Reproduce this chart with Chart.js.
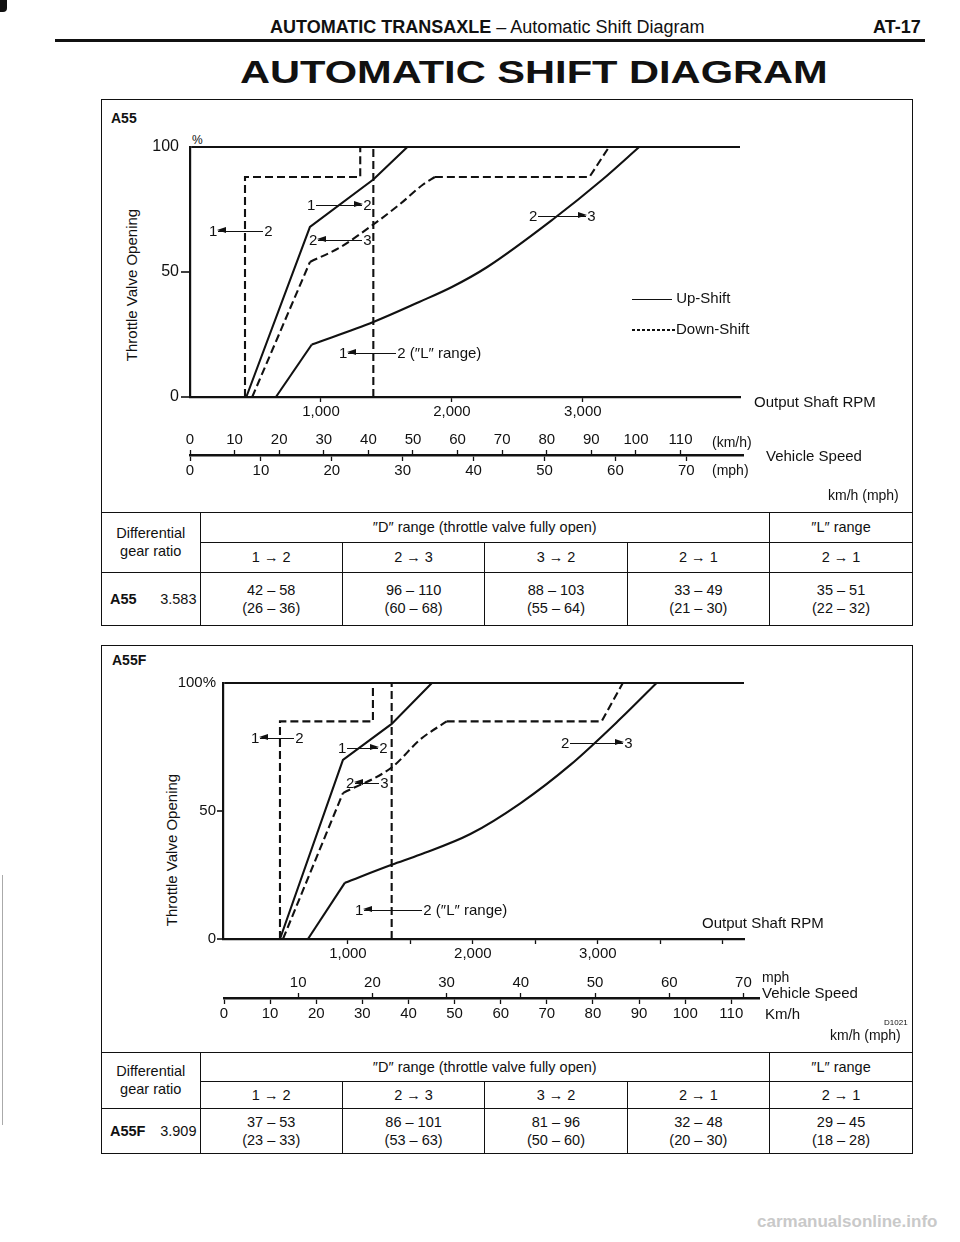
<!DOCTYPE html>
<html><head><meta charset="utf-8">
<script src="https://cdn.jsdelivr.net/npm/chart.js@4.4.1/dist/chart.umd.min.js"></script>
<style>
*{box-sizing:border-box}
html,body{margin:0;padding:0}
body{width:960px;height:1242px;position:relative;background:#fff;color:#111;font-family:"Liberation Sans",Arial,Helvetica,sans-serif;overflow:hidden}
.a{position:absolute;white-space:nowrap;line-height:18px;font-size:15px}
.box{position:absolute;border:1.6px solid #111}
.ln{display:inline-block;position:relative;height:0;border-top:1.4px solid #111;vertical-align:middle;margin:0 1px;top:-1px}
.ln.l::before{content:"";position:absolute;left:-1px;top:-4.6px;border-right:9px solid #111;border-top:3.3px solid transparent;border-bottom:3.3px solid transparent}
.ln.r::after{content:"";position:absolute;right:-1px;top:-4.6px;border-left:9px solid #111;border-top:3.3px solid transparent;border-bottom:3.3px solid transparent}
.t{position:absolute;left:0;bottom:0;width:100%;border-collapse:collapse;table-layout:fixed;font-size:14.5px}
.t td{border:1.4px solid #111;text-align:center;vertical-align:middle;padding:0;line-height:18px}
.t tr td:first-child{border-left:none}
.t tr td:last-child{border-right:none}
.t tr:last-child td{border-bottom:none}
canvas{position:absolute}
.vt{position:absolute;transform:translate(-50%,-50%) rotate(-90deg);white-space:nowrap;font-size:15px;line-height:18px}
</style></head><body>
<script>
// ---------- data ----------
const rpmLabelTicks = [1000, 2000, 3000];
const rpmTickMarksA55 = [1000, 2000, 3000];
const rpmTickMarksA55F = [1000, 1500, 2000, 2500, 3000, 3500, 4000];
const throttleTicks = [0, 50, 100];
const kmhTicks = [0, 10, 20, 30, 40, 50, 60, 70, 80, 90, 100, 110];
const mphTicks = [0, 10, 20, 30, 40, 50, 60, 70];
const mphTicksA55F = [10, 20, 30, 40, 50, 60, 70];

// A55 shift lines: [output shaft rpm, throttle %]
const a55Up12 = [[430, 0], [916, 68], [1400, 87], [1660, 100]];
const a55Up23Low = [[656, 0], [930, 21]];
const a55Up23Curve = [[930, 21], [1400, 30], [1750, 38], [2000, 44], [2270, 52], [2770, 71], [3150, 87], [3430, 100]];
const a55Down32Low = [[475, 0], [916, 54]];
const a55Down32Curve = [[916, 54], [1150, 60], [1400, 69], [1600, 77], [1780, 85], [1870, 88]];
const a55Down32Top = [[1870, 88], [3050, 88], [3200, 100]];
const a55Down21 = [[420, 0], [420, 88], [1300, 88], [1300, 100]];
const a55Down21L = [[1400, 0], [1400, 100]];

// A55F shift lines
const a55fUp12 = [[456, 0], [960, 70], [1350, 84], [1672, 100]];
const a55fUp23Low = [[680, 0], [976, 22]];
const a55fUp23Curve = [[976, 22], [1350, 29], [1580, 33], [1980, 41], [2380, 53], [2780, 68], [3180, 86], [3470, 100]];
const a55fDown32Low = [[480, 0], [960, 57]];
const a55fDown32Curve = [[960, 57], [1350, 67], [1580, 78], [1790, 85]];
const a55fDown32Top = [[1790, 85], [3030, 85], [3200, 100]];
const a55fDown21 = [[456, 0], [456, 85], [1200, 85], [1200, 100]];
const a55fDown21L = [[1350, 0], [1350, 100]];

// tables
const shiftHeads = ['1 → 2', '2 → 3', '3 → 2', '2 → 1', '2 → 1'];
const a55Kmh = ['42 – 58', '96 – 110', '88 – 103', '33 – 49', '35 – 51'];
const a55Mph = ['(26 – 36)', '(60 – 68)', '(55 – 64)', '(21 – 30)', '(22 – 32)'];
const a55fKmh = ['37 – 53', '86 – 101', '81 – 96', '32 – 48', '29 – 45'];
const a55fMph = ['(23 – 33)', '(53 – 63)', '(50 – 60)', '(20 – 30)', '(18 – 28)'];
</script>

<!-- header -->
<div style="position:absolute;left:0;top:0;width:7px;height:12px;background:#111;border-radius:0 0 4px 0"></div>
<div style="position:absolute;left:2px;top:875px;width:1px;height:250px;background:#aaa"></div>
<div class="a" style="left:270px;top:17px;font-size:18px;line-height:20px"><b>AUTOMATIC TRANSAXLE</b> – Automatic Shift Diagram</div>
<div class="a" style="left:873px;top:17px;font-size:18px;line-height:20px"><b>AT-17</b></div>
<div style="position:absolute;left:55px;top:39px;width:870px;height:3px;background:#111"></div>
<div class="a" style="left:240px;top:54px;font-size:32px;line-height:36px;font-weight:bold;transform:scaleX(1.3);transform-origin:0 50%">AUTOMATIC SHIFT DIAGRAM</div>

<!-- panel 1 -->
<div class="box" id="box1" style="left:101px;top:99px;width:812px;height:527px"></div>
<div class="a" style="left:111px;top:109px;font-weight:bold;font-size:14px">A55</div>
<div class="a" style="left:192px;top:131px;font-size:12px">%</div>
<div class="vt" style="left:132px;top:285px">Throttle Valve Opening</div>
<canvas id="c1" width="800" height="310" style="left:100px;top:120px;width:800px;height:310px"></canvas>
<canvas id="s1" width="800" height="56" style="left:100px;top:427px;width:800px;height:56px"></canvas>
<div class="a" style="left:754px;top:393px">Output Shaft RPM</div>
<div class="a" style="left:712px;top:433px;font-size:14px">(km/h)</div>
<div class="a" style="left:712px;top:461px;font-size:14px">(mph)</div>
<div class="a" style="left:766px;top:447px">Vehicle Speed</div>
<div class="a" style="left:828px;top:486px;font-size:14px">km/h (mph)</div>
<div class="a" style="left:632px;top:289px"><span style="display:inline-block;width:40px;border-top:1.4px solid #111;vertical-align:middle"></span> Up-Shift</div>
<div class="a" style="left:632px;top:320px"><span style="display:inline-block;width:44px;height:1.6px;background:repeating-linear-gradient(90deg,#111 0 3px,transparent 3px 5px);vertical-align:middle"></span>Down-Shift</div>

<!-- panel 2 -->
<div class="box" id="box2" style="left:101px;top:645px;width:812px;height:509px"></div>
<div class="a" style="left:112px;top:651px;font-weight:bold;font-size:14px">A55F</div>
<div class="vt" style="left:172px;top:850px">Throttle Valve Opening</div>
<canvas id="c2" width="800" height="310" style="left:100px;top:660px;width:800px;height:310px"></canvas>
<canvas id="s2" width="800" height="56" style="left:100px;top:970px;width:800px;height:56px"></canvas>
<div class="a" style="left:702px;top:914px">Output Shaft RPM</div>
<div class="a" style="left:762px;top:970px;font-size:14px;line-height:14px">mph</div>
<div class="a" style="left:762px;top:984px">Vehicle Speed</div>
<div class="a" style="left:765px;top:1005px">Km/h</div>
<div class="a" style="left:884px;top:1018px;font-size:8px;line-height:10px">D1021</div>
<div class="a" style="left:830px;top:1026px;font-size:14px">km/h (mph)</div>

<div class="a" style="left:757px;top:1213px;font-size:17px;color:#c9c9c9;font-weight:bold">carmanualsonline.info</div>

<script>
const INK = '#111';
const FONT = '"Liberation Sans", Arial, sans-serif';
Chart.defaults.font.family = FONT;
Chart.defaults.color = INK;

function ds(points, dashed, curved) {
  return {
    data: points.map(p => ({x: p[0], y: p[1]})),
    showLine: true, borderColor: INK, backgroundColor: INK,
    borderWidth: 2.1, pointRadius: 0, pointHoverRadius: 0,
    borderDash: dashed ? [8, 4] : [],
    tension: 0, cubicInterpolationMode: curved ? 'monotone' : 'default',
    clip: false, fill: false
  };
}

function mainChart(id, datasets, o) {
  return new Chart(document.getElementById(id), {
    type: 'scatter',
    data: {datasets},
    options: {
      responsive: false, animation: false, events: [],
      layout: {padding: {left: 0, right: o.padRight, top: o.padTop, bottom: 0}},
      plugins: {legend: {display: false}, tooltip: {enabled: false}},
      scales: {
        x: {
          type: 'linear', min: 0, max: o.rpmMax,
          afterBuildTicks: s => { s.ticks = o.rpmMarks.map(v => ({value: v})); },
          afterFit: s => { s.height = o.xHeight; },
          ticks: {
            autoSkip: false, maxRotation: 0, padding: 1, color: INK,
            font: {size: 15},
            callback: v => rpmLabelTicks.includes(v) ? v.toLocaleString('en-US') : ''
          },
          grid: {drawOnChartArea: false, tickLength: 5, tickColor: INK, tickWidth: 1.3},
          border: {display: true, color: INK, width: 2.2}
        },
        y: {
          type: 'linear', min: 0, max: 100,
          afterBuildTicks: s => { s.ticks = throttleTicks.map(v => ({value: v})); },
          afterFit: s => { s.width = o.yWidth; },
          ticks: {
            padding: o.yPad, color: INK, font: {size: o.yFont},
            callback: v => v === 100 ? o.topLabel : String(v)
          },
          grid: {
            drawOnChartArea: true, tickLength: o.yTick, lineWidth: 2,
            color: c => (c.tick && c.tick.value === 100) ? INK : 'rgba(0,0,0,0)',
            tickColor: c => (c.tick && c.tick.value === 100) ? 'rgba(0,0,0,0)' : INK,
            tickWidth: 1.6
          },
          border: {display: true, color: INK, width: 2.2}
        }
      }
    }
  });
}

mainChart('c1', [
  ds(a55Up12, false, false),
  ds(a55Up23Low, false, false),
  ds(a55Up23Curve, false, true),
  ds(a55Down32Low, true, false),
  ds(a55Down32Curve, true, true),
  ds(a55Down32Top, true, false),
  ds(a55Down21, true, false),
  ds(a55Down21L, true, false)
], {padRight: 160, padTop: 27, rpmMax: 4200, rpmMarks: rpmTickMarksA55, xHeight: 33, yWidth: 90, yPad: 2, yTick: 9, yFont: 16, topLabel: '100'});

mainChart('c2', [
  ds(a55fUp12, false, false),
  ds(a55fUp23Low, false, false),
  ds(a55fUp23Curve, false, true),
  ds(a55fDown32Low, true, false),
  ds(a55fDown32Curve, true, true),
  ds(a55fDown32Top, true, false),
  ds(a55fDown21, true, false),
  ds(a55fDown21L, true, false)
], {padRight: 156, padTop: 23, rpmMax: 4170, rpmMarks: rpmTickMarksA55F, xHeight: 31, yWidth: 123, yPad: 1, yTick: 6, yFont: 15, topLabel: '100%'});

function speedScale(id, o) {
  const axis = (pos, max, ticks, h) => ({
    type: 'linear', axis: 'x', position: pos, min: 0, max: max,
    afterBuildTicks: s => { s.ticks = ticks.map(v => ({value: v})); },
    afterFit: s => { s.height = h; },
    ticks: {autoSkip: false, maxRotation: 0, padding: 1, color: INK, font: {size: 15}, callback: v => String(v)},
    grid: {drawOnChartArea: false, tickLength: 5, tickColor: INK, tickWidth: 1.3},
    border: {display: true, color: INK, width: 1.6}
  });
  const scales = {y: {display: false}};
  scales.topAxis = axis('top', o.topMax, o.topTicks, 28);
  scales.bottomAxis = axis('bottom', o.bottomMax, o.bottomTicks, 27);
  return new Chart(document.getElementById(id), {
    type: 'scatter',
    data: {datasets: []},
    options: {
      responsive: false, animation: false, events: [],
      layout: {padding: {left: o.left, right: o.right, top: 0, bottom: 0}},
      plugins: {legend: {display: false}, tooltip: {enabled: false}},
      scales
    }
  });
}
const KMH_PER_MPH = 1.609;
speedScale('s1', {left: 90, right: 157, topMax: 124, topTicks: kmhTicks, bottomMax: 78, bottomTicks: mphTicks});
speedScale('s2', {left: 124, right: 141, topMax: 116 / KMH_PER_MPH, topTicks: mphTicksA55F, bottomMax: 116, bottomTicks: kmhTicks});

// annotations
function arrowLabel(left, cy, a, b, w, dir, extra) {
  const d = document.createElement('div');
  d.className = 'a';
  d.style.left = left + 'px';
  d.style.top = (cy - 9) + 'px';
  d.innerHTML = a + '<span class="ln ' + dir + '" style="width:' + w + 'px"></span>' + b + (extra || '');
  document.body.appendChild(d);
}
arrowLabel(209, 231, '1', '2', 45, 'l');
arrowLabel(307, 205, '1', '2', 46, 'r');
arrowLabel(309, 240, '2', '3', 44, 'l');
arrowLabel(529, 216, '2', '3', 48, 'r');
arrowLabel(339, 353, '1', '2', 48, 'l', ' (″L″ range)');
arrowLabel(251, 738, '1', '2', 34, 'l');
arrowLabel(338, 748, '1', '2', 31, 'r');
arrowLabel(346, 783, '2', '3', 24, 'l');
arrowLabel(561, 743, '2', '3', 53, 'r');
arrowLabel(355, 910, '1', '2', 58, 'l', ' (″L″ range)');

// tables
function buildTable(boxId, model, ratio, kmh, mph, rows) {
  const t = document.createElement('table');
  t.className = 't';
  let h = '<colgroup><col style="width:98px">' + shiftHeads.map(() => '<col>').join('') + '</colgroup>';
  h += '<tr style="height:' + rows[0] + 'px"><td rowspan="2">Differential<br>gear ratio</td><td colspan="4">″D″ range (throttle valve fully open)</td><td>″L″ range</td></tr>';
  h += '<tr style="height:' + rows[1] + 'px">' + shiftHeads.map(s => '<td>' + s + '</td>').join('') + '</tr>';
  h += '<tr style="height:' + rows[2] + 'px"><td style="text-align:left;padding-left:8px"><b>' + model + '</b><span style="float:right;margin-right:3px">' + ratio + '</span></td>' +
       kmh.map((k, i) => '<td>' + k + '<br>' + mph[i] + '</td>').join('') + '</tr>';
  t.innerHTML = h;
  document.getElementById(boxId).appendChild(t);
}
buildTable('box1', 'A55', '3.583', a55Kmh, a55Mph, [30, 30, 53]);
buildTable('box2', 'A55F', '3.909', a55fKmh, a55fMph, [29, 27, 45]);
</script>
</body></html>
